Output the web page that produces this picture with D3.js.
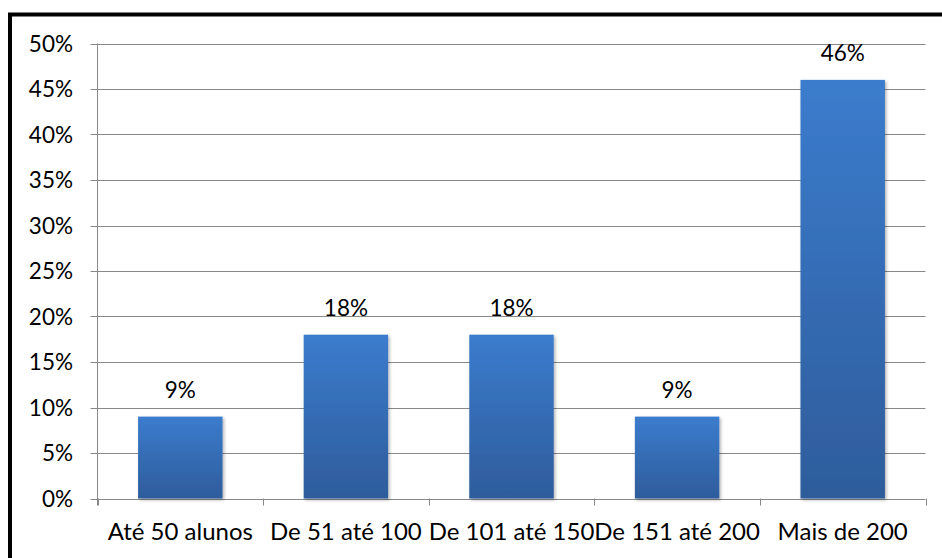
<!DOCTYPE html>
<html>
<head>
<meta charset="utf-8">
<script src="https://cdn.jsdelivr.net/npm/d3@7"></script>
<style>
  html, body { margin: 0; padding: 0; background: #fff; }
  svg { display: block; }
</style>
</head>
<body>
<svg id="chart" width="942" height="558"></svg>
<script>
// Distribuição das escolas por número de alunos
const categories = ["Até 50 alunos", "De 51 até 100", "De 101 até 150", "De 151 até 200", "Mais de 200"];
const values = [9, 18, 18, 9, 46];
const yTicks = [0, 5, 10, 15, 20, 25, 30, 35, 40, 45, 50];

const svg = d3.select("#chart");
const W = 942, H = 558;
const font = "Lato, 'Open Sans', sans-serif";

// outer frame (thick black border)
svg.append("rect")
  .attr("x", 10).attr("y", 14.5)
  .attr("width", W + 20).attr("height", H + 20)
  .attr("fill", "none")
  .attr("stroke", "#000")
  .attr("stroke-width", 4);

const plot = { left: 97.5, right: 925.5, top: 43.5, bottom: 498.5 };

const x = d3.scaleBand()
  .domain(categories)
  .range([plot.left, plot.right])
  .paddingInner(0.49)
  .paddingOuter(0.245);

const y = d3.scaleLinear()
  .domain([0, 50])
  .range([plot.bottom, plot.top]);

const defs = svg.append("defs");
const grad = defs.append("linearGradient")
  .attr("id", "barGrad")
  .attr("x1", 0).attr("y1", 0).attr("x2", 0).attr("y2", 1);
grad.append("stop").attr("offset", "0%").attr("stop-color", "#3b7ccd");
grad.append("stop").attr("offset", "100%").attr("stop-color", "#2e5c9b");

const shadow = defs.append("filter")
  .attr("id", "shadow")
  .attr("x", "-10%").attr("y", "-10%")
  .attr("width", "130%").attr("height", "130%");
shadow.append("feDropShadow")
  .attr("dx", 1.5).attr("dy", 1.5)
  .attr("stdDeviation", 1.5)
  .attr("flood-color", "#000")
  .attr("flood-opacity", 0.3);

// horizontal gridlines
svg.append("g")
  .selectAll("line")
  .data(yTicks)
  .join("line")
  .attr("x1", plot.left - 7)
  .attr("x2", plot.right)
  .attr("y1", d => Math.round(y(d)) + 0.5)
  .attr("y2", d => Math.round(y(d)) + 0.5)
  .attr("stroke", "#888")
  .attr("stroke-width", 1);

// y axis line
svg.append("line")
  .attr("x1", plot.left).attr("x2", plot.left)
  .attr("y1", plot.top).attr("y2", plot.bottom + 7)
  .attr("stroke", "#888");

// x-axis tick marks at category boundaries
const boundaries = d3.range(categories.length + 1).map(i => plot.left + i * (plot.right - plot.left) / categories.length);
svg.append("g")
  .selectAll("line")
  .data(boundaries)
  .join("line")
  .attr("x1", d => Math.round(d) + 0.5)
  .attr("x2", d => Math.round(d) + 0.5)
  .attr("y1", plot.bottom)
  .attr("y2", plot.bottom + 7)
  .attr("stroke", "#888");

// y tick labels
svg.append("g")
  .selectAll("text")
  .data(yTicks)
  .join("text")
  .attr("x", 73)
  .attr("y", d => y(d))
  .attr("dy", "0.36em")
  .attr("text-anchor", "end")
  .attr("font-family", font)
  .attr("font-size", 22.5)
  .attr("fill", "#000")
  .text(d => d + "%");

// bars
svg.append("g")
  .selectAll("rect")
  .data(values)
  .join("rect")
  .attr("x", (d, i) => x(categories[i]))
  .attr("y", d => y(d))
  .attr("width", x.bandwidth())
  .attr("height", d => y(0) - y(d))
  .attr("fill", "url(#barGrad)")
  .attr("filter", "url(#shadow)");

// value labels
svg.append("g")
  .selectAll("text")
  .data(values)
  .join("text")
  .attr("x", (d, i) => x(categories[i]) + x.bandwidth() / 2)
  .attr("y", d => y(d) - 19)
  .attr("text-anchor", "middle")
  .attr("font-family", font)
  .attr("font-size", 22.5)
  .attr("fill", "#000")
  .text(d => d + "%");

// category labels
svg.append("g")
  .selectAll("text")
  .data(categories)
  .join("text")
  .attr("x", d => x(d) + x.bandwidth() / 2)
  .attr("y", 540)
  .attr("text-anchor", "middle")
  .attr("font-family", font)
  .attr("font-size", 24)
  .attr("fill", "#000")
  .text(d => d);
</script>
</body>
</html>
